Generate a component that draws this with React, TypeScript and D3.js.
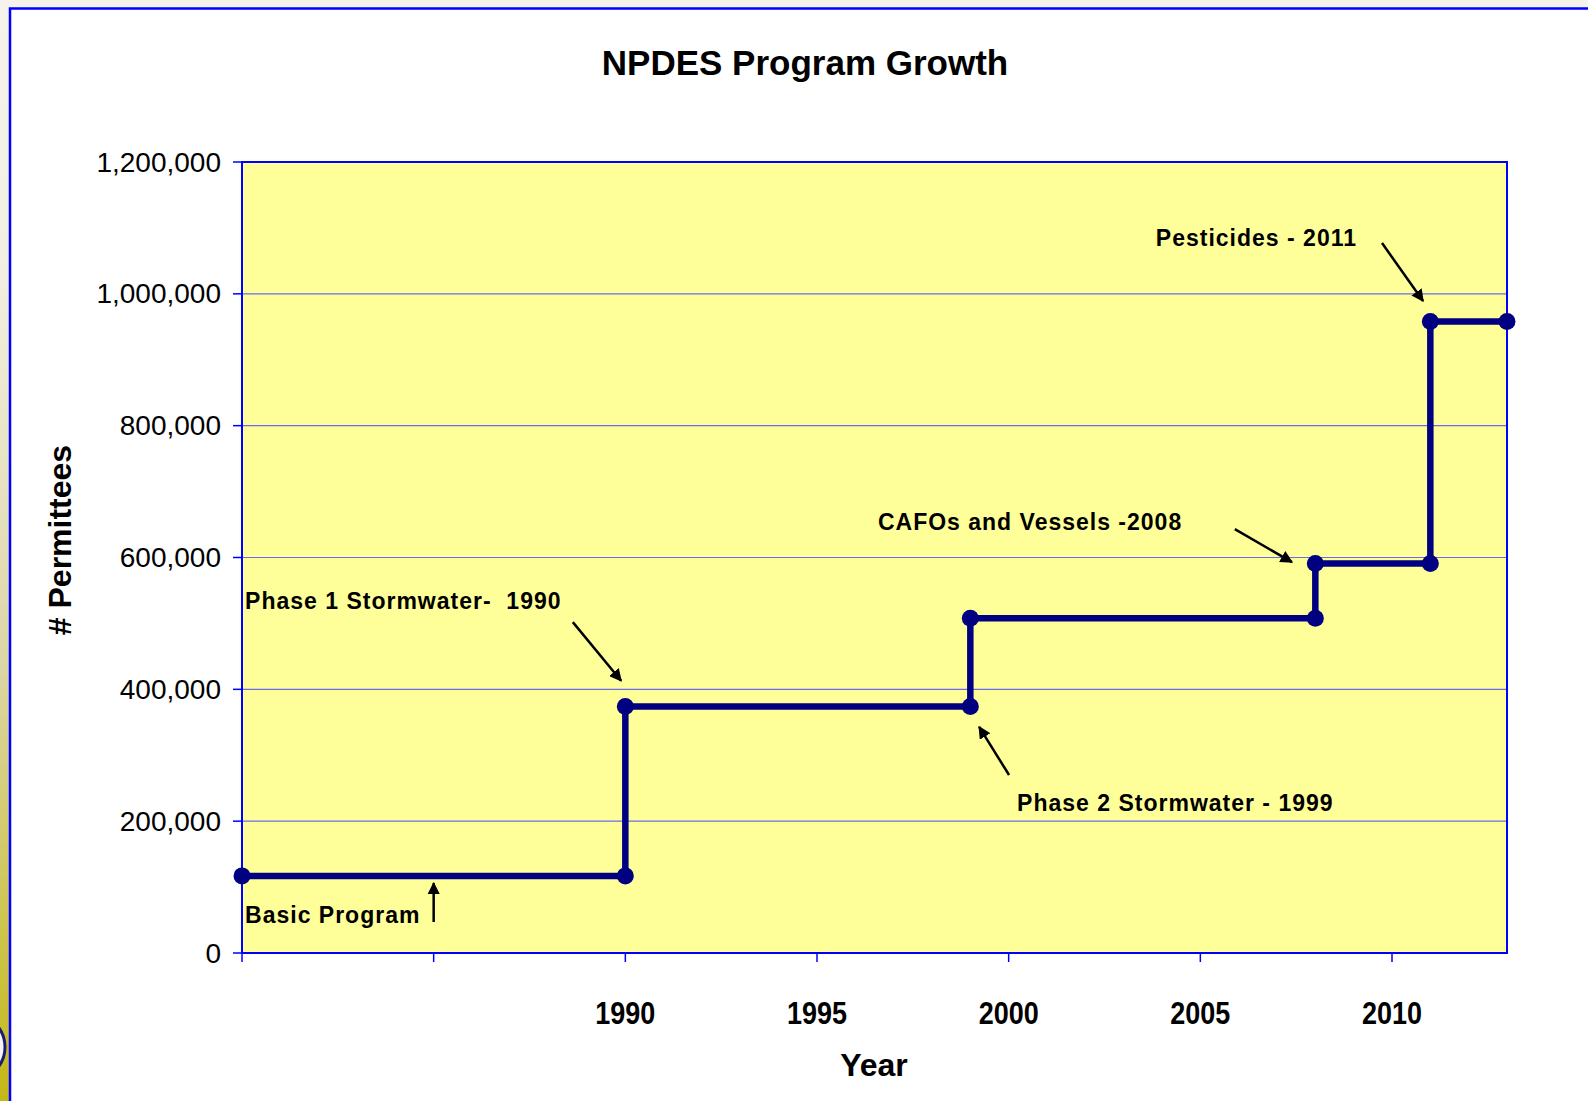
import React from "react";
import * as d3 from "d3";

const W = 1588;
const H = 1101;

const titleText = "NPDES Program Growth";
const xAxisTitle = "Year";
const yAxisTitle = "# Permittees";

// Step series (year, permittees)
const years = [1980, 1990, 1990, 1999, 1999, 2008, 2008, 2011, 2011, 2013];
const permittees = [117000, 117000, 374000, 374000, 508000, 508000, 591000, 591000, 958000, 958000];

const yTicks = [0, 200000, 400000, 600000, 800000, 1000000, 1200000];
const xTicks = [1980, 1985, 1990, 1995, 2000, 2005, 2010];
const xTickLabels = ["", "", "1990", "1995", "2000", "2005", "2010"];

// Annotations in data coordinates
const annLabels = [
  "Basic Program",
  "Phase 1 Stormwater-  1990",
  "Phase 2 Stormwater - 1999",
  "CAFOs and Vessels -2008",
  "Pesticides - 2011",
];
const annTextAt: [number, number][] = [
  [1980.08, 45500],
  [1980.08, 522000],
  [2000.22, 215000],
  [1996.59, 642000],
  [2003.84, 1072000],
];
const annArrowFrom: [number, number][] = [
  [1985, 47000],
  [1988.63, 502000],
  [2000.01, 270000],
  [2005.9, 643000],
  [2009.74, 1077000],
];
const annArrowTo: [number, number][] = [
  [1985, 106000],
  [1989.89, 413000],
  [1999.23, 343000],
  [2007.39, 593000],
  [2010.81, 989000],
];

export default function App() {
  const left = 242, right = 1507, top = 162, bottom = 953;
  const x = d3.scaleLinear().domain([1980, 2013]).range([left, right]);
  const y = d3.scaleLinear().domain([0, 1200000]).range([bottom, top]);
  const fmt = d3.format(",");
  const pts = years.map((yr, i) => [x(yr), y(permittees[i])] as [number, number]);
  const line = d3.line()(pts) || "";

  const font = "'Liberation Sans', Arial, Helvetica, sans-serif";

  return (
    <svg
      width={W}
      height={H}
      style={{ position: "fixed", left: 0, top: 0, display: "block" }}
      fontFamily={font}
    >
      <defs>
        <linearGradient id="strip" x1="0" y1="0" x2="0" y2="1">
          <stop offset="0" stopColor="#f6f3ec" />
          <stop offset="0.25" stopColor="#f2efe2" />
          <stop offset="0.6" stopColor="#dcd7a6" />
          <stop offset="1" stopColor="#c4b816" />
        </linearGradient>
        <clipPath id="stripClip">
          <rect x={0} y={0} width={10} height={H} />
        </clipPath>
        <marker id="arrow" viewBox="0 0 10 10" refX="9" refY="5" markerWidth="5" markerHeight="5" orient="auto" markerUnits="strokeWidth">
          <path d="M0,0 L10,5 L0,10 z" fill="#000" />
        </marker>
      </defs>

      {/* slide background */}
      <rect x={0} y={0} width={W} height={H} fill="#f6f3ec" />
      <rect x={0} y={0} width={10} height={H} fill="url(#strip)" />
      <g clipPath="url(#stripClip)">
        <circle cx={-28} cy={1047} r={33} fill="#f4f4f8" stroke="#1c1c6e" strokeWidth={3} />
      </g>
      <rect x={10} y={8.5} width={W} height={H} fill="#ffffff" stroke="#0000ff" strokeWidth={2.5} />

      {/* title */}
      <text x={805} y={75} textAnchor="middle" fontSize={35} fontWeight="bold" fill="#000">
        {titleText}
      </text>

      {/* plot area */}
      <rect x={left} y={top} width={right - left} height={bottom - top} fill="#ffff99" />
      {yTicks.filter((t) => t > 0 && t < 1200000).map((t) => (
        <line key={"g" + t} x1={left} x2={right} y1={y(t)} y2={y(t)} stroke="#6a6af0" strokeWidth={1.2} />
      ))}
      <rect x={left} y={top} width={right - left} height={bottom - top} fill="none" stroke="#0000ff" strokeWidth={2} />

      {/* y ticks */}
      {yTicks.map((t) => (
        <g key={"y" + t}>
          <line x1={left - 9} x2={left} y1={y(t)} y2={y(t)} stroke="#0000ff" strokeWidth={1.5} />
          <text x={221} y={y(t)} dy="0.34em" textAnchor="end" fontSize={28} fill="#000">
            {fmt(t)}
          </text>
        </g>
      ))}

      {/* x ticks */}
      {xTicks.map((t, i) => (
        <g key={"x" + t}>
          <line x1={x(t)} x2={x(t)} y1={bottom} y2={bottom + 9} stroke="#0000ff" strokeWidth={1.5} />
          {xTickLabels[i] ? (
            <text
              x={x(t)}
              y={1024}
              textAnchor="middle"
              fontSize={32}
              fontWeight="bold"
              textLength={60}
              lengthAdjust="spacingAndGlyphs"
              fill="#000"
            >
              {xTickLabels[i]}
            </text>
          ) : null}
        </g>
      ))}

      {/* axis titles */}
      <text x={874} y={1076} textAnchor="middle" fontSize={32} fontWeight="bold" fill="#000">
        {xAxisTitle}
      </text>
      <text transform="translate(71,540) rotate(-90)" textAnchor="middle" fontSize={32} fontWeight="bold" fill="#000">
        {yAxisTitle}
      </text>

      {/* series */}
      <path d={line} fill="none" stroke="#000080" strokeWidth={6.5} strokeLinejoin="miter" />
      {pts.map((p, i) => (
        <circle key={"p" + i} cx={p[0]} cy={p[1]} r={8.5} fill="#000080" />
      ))}

      {/* annotations */}
      {annLabels.map((lab, i) => (
        <g key={"a" + i}>
          <text
            x={x(annTextAt[i][0])}
            y={y(annTextAt[i][1])}
            fontSize={23}
            fontWeight="bold"
            letterSpacing={1.0}
            fill="#000"
            style={{ whiteSpace: "pre" }}
          >
            {lab}
          </text>
          <line
            x1={x(annArrowFrom[i][0])}
            y1={y(annArrowFrom[i][1])}
            x2={x(annArrowTo[i][0])}
            y2={y(annArrowTo[i][1])}
            stroke="#000"
            strokeWidth={2.5}
            markerEnd="url(#arrow)"
          />
        </g>
      ))}
    </svg>
  );
}
